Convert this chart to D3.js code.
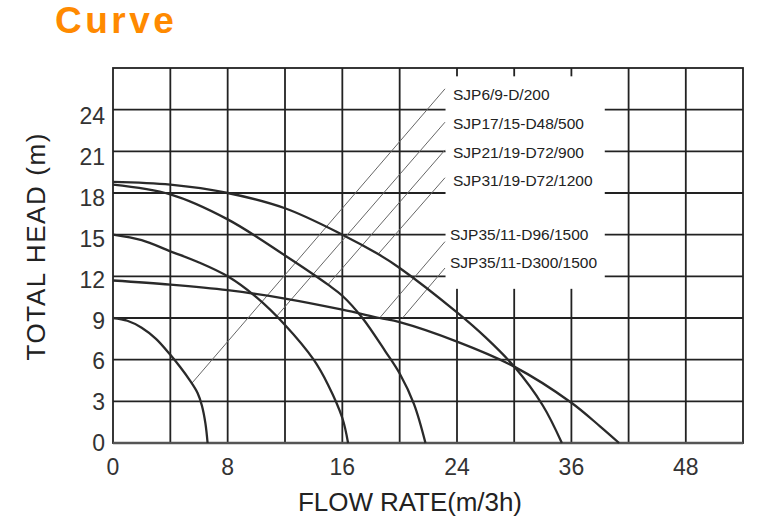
<!DOCTYPE html>
<html>
<head>
<meta charset="utf-8">
<script src="https://cdn.jsdelivr.net/npm/d3@7"></script>
<style>
  body { margin: 0; background: #fff; }
  svg { display: block; font-family: "Liberation Sans", Arial, sans-serif; }
</style>
</head>
<body>
<svg id="chart" width="769" height="526"></svg>
<script>
// tick labels (the x labels are evenly spaced even though they jump 24 -> 36 -> 48)
const flowTicks = [0, 8, 16, 24, 36, 48];
const headTicks = [0, 3, 6, 9, 12, 15, 18, 21, 24];
const flowGrid = [4, 8, 12, 16, 20, 24, 30, 36, 42, 48];

// pump curves [flow, head]
const sjp6_9 = [[0, 9], [1, 8.8], [2, 8.3], [3, 7.5], [4, 6.35], [4.7, 5.45], [5.3, 4.6], [5.9, 3.6], [6.2, 2.7], [6.45, 1.4], [6.6, 0]];
const sjp17_15 = [[0, 15], [2, 14.6], [4, 13.8], [6, 13.0], [8, 12.0], [10, 10.5], [12, 8.5], [14, 6.0], [15, 4.2], [16, 1.8], [16.4, 0]];
const sjp21_19 = [[0, 18.6], [4, 17.9], [8, 16.1], [12, 13.5], [15, 11.4], [16, 10.6], [17.4, 9.0], [19, 6.6], [20, 5.0], [21, 2.8], [21.8, 0]];
const sjp31_19 = [[0, 18.8], [4, 18.6], [8, 18.0], [12, 16.9], [16, 15.0], [18.5, 13.6], [20, 12.6], [24, 9.4], [27, 7.6], [30, 5.5], [33, 2.7], [35, 0]];
const sjp35_11 = [[0, 11.7], [4, 11.4], [8, 11.0], [12, 10.4], [16, 9.6], [18.6, 9.0], [20, 8.7], [24, 7.3], [30, 5.5], [36, 2.9], [39, 1.2], [41, 0]];

// model labels and the thin leader lines that tie them to the curves
const modelNames = ["SJP6/9-D/200", "SJP17/15-D48/500", "SJP21/19-D72/900", "SJP31/19-D72/1200", "SJP35/11-D96/1500", "SJP35/11-D300/1500"];
const leaderStart = [[5.5, 4.3], [11.4, 9.1], [15, 11.4], [18.5, 13.6], [18.6, 9.0], [20.2, 9.0]];
const leaderEndHead = [25.5, 23.1, 21.1, 19.1, 14.5, 12.6];
const labelHead = [25.1, 23.0, 20.9, 18.9, 15.0, 13.0];

const svg = d3.select("#chart");
const W = 769, H = 526;
svg.append("rect").attr("width", W).attr("height", H).attr("fill", "#fff");

const plot = { left: 113, right: 743, top: 68, bottom: 443 };

// piecewise: 0..24 uses the wide spacing, after that the labels go 36, 48
const x = d3.scaleLinear().domain([0, 24, 54]).range([plot.left, 457, plot.right]);
const y = d3.scaleLinear().domain([0, 27]).range([plot.bottom, plot.top]);

const ink = "#222";
const g = svg.append("g");

// grid
g.selectAll(".vgrid")
  .data(flowGrid)
  .join("line")
  .attr("class", "vgrid")
  .attr("x1", d => x(d)).attr("x2", d => x(d))
  .attr("y1", plot.top).attr("y2", plot.bottom)
  .attr("stroke", ink).attr("stroke-width", 1.8);

g.selectAll(".hgrid")
  .data(headTicks.filter(d => d > 0))
  .join("line")
  .attr("class", "hgrid")
  .attr("x1", plot.left).attr("x2", plot.right)
  .attr("y1", d => y(d)).attr("y2", d => y(d))
  .attr("stroke", ink).attr("stroke-width", 1.8);

g.append("rect")
  .attr("x", plot.left).attr("y", plot.top)
  .attr("width", plot.right - plot.left).attr("height", plot.bottom - plot.top)
  .attr("fill", "none").attr("stroke", ink).attr("stroke-width", 1.8);

g.append("line")
  .attr("x1", plot.left).attr("x2", plot.right)
  .attr("y1", plot.bottom).attr("y2", plot.bottom)
  .attr("stroke", "#555").attr("stroke-width", 2.6);

// white panel behind the model names
g.append("rect")
  .attr("x", x(23.2)).attr("y", y(26.4))
  .attr("width", x(39.5) - x(23.2)).attr("height", y(11.1) - y(26.4))
  .attr("fill", "#fff");

// leader lines
const leaderEndFlow = x.invert(445);
g.selectAll(".leader")
  .data(leaderStart)
  .join("line")
  .attr("class", "leader")
  .attr("x1", d => x(d[0])).attr("y1", d => y(d[1]))
  .attr("x2", x(leaderEndFlow)).attr("y2", (d, i) => y(leaderEndHead[i]))
  .attr("stroke", "#666").attr("stroke-width", 1);

// curves
const line = d3.line()
  .x(d => x(d[0]))
  .y(d => y(d[1]))
  .curve(d3.curveCatmullRom.alpha(0.5));

g.selectAll(".curve")
  .data([sjp6_9, sjp17_15, sjp21_19, sjp31_19, sjp35_11])
  .join("path")
  .attr("class", "curve")
  .attr("d", line)
  .attr("fill", "none")
  .attr("stroke", "#2a2a2a")
  .attr("stroke-width", 2.3);

// model names
g.selectAll(".model")
  .data(modelNames)
  .join("text")
  .attr("class", "model")
  .attr("x", (d, i) => i < 4 ? 453 : 450)
  .attr("y", (d, i) => y(labelHead[i]))
  .attr("dy", "0.35em")
  .attr("font-size", 15.5)
  .attr("fill", ink)
  .text(d => d);

// tick labels
g.selectAll(".ytick")
  .data(headTicks)
  .join("text")
  .attr("class", "ytick")
  .attr("x", 105)
  .attr("y", d => y(d) + 6 * d / 24)
  .attr("dy", "0.36em")
  .attr("text-anchor", "end")
  .attr("font-size", 23)
  .attr("fill", "#333")
  .text(d => d);

g.selectAll(".xtick")
  .data(flowTicks)
  .join("text")
  .attr("class", "xtick")
  .attr("x", d => x(d))
  .attr("y", 475)
  .attr("text-anchor", "middle")
  .attr("font-size", 23)
  .attr("fill", "#333")
  .text(d => d);

// axis titles
svg.append("text")
  .attr("x", 410).attr("y", 511)
  .attr("text-anchor", "middle")
  .attr("font-size", 26)
  .attr("fill", ink)
  .attr("textLength", 224)
  .text("FLOW RATE(m/3h)");

svg.append("text")
  .attr("transform", "translate(45,247) rotate(-90)")
  .attr("text-anchor", "middle")
  .attr("font-size", 26)
  .attr("fill", ink)
  .attr("textLength", 227)
  .text("TOTAL HEAD  (m)");

// title
svg.append("text")
  .attr("x", 55).attr("y", 33)
  .attr("font-size", 37)
  .attr("font-weight", "bold")
  .attr("letter-spacing", 3.5)
  .attr("fill", "#ff8a00")
  .text("Curve");
</script>
</body>
</html>
